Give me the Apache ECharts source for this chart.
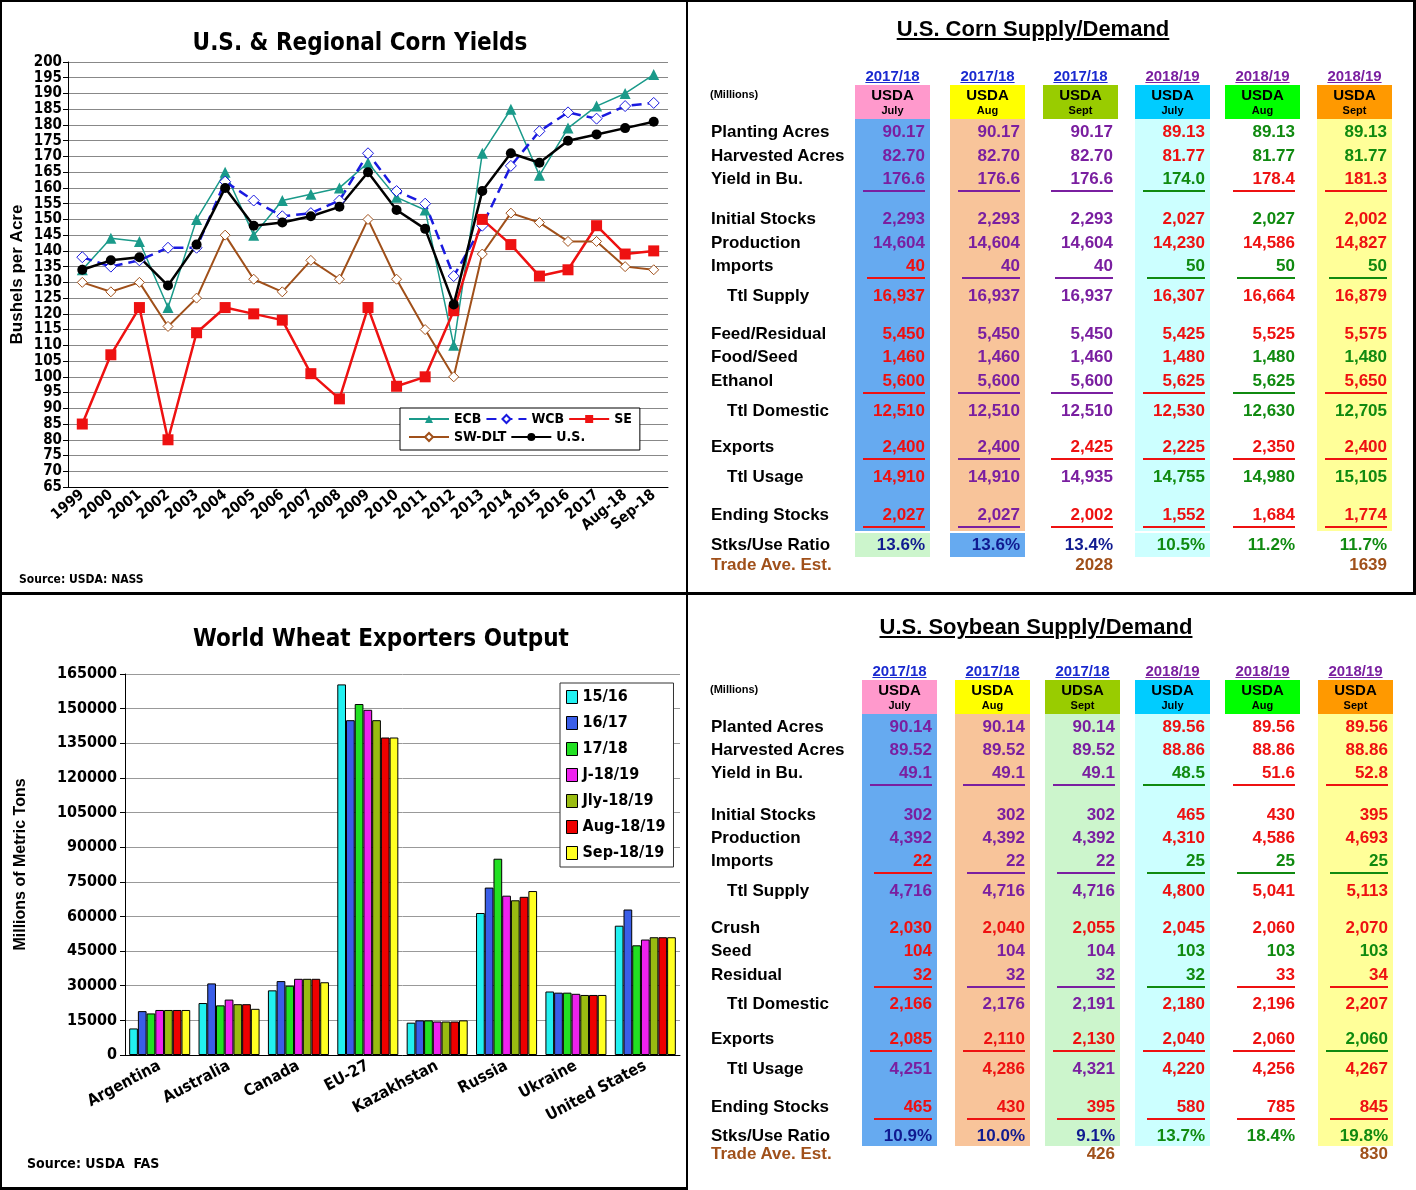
<!DOCTYPE html>
<html>
<head>
<meta charset="utf-8">
<title>Corn / Wheat / Soybean</title>
<script src="https://cdn.jsdelivr.net/npm/echarts@6.0.0/dist/echarts.min.js"></script>
<style>
  body { margin: 0; background: #fff; font-family: "Liberation Sans", Arial, sans-serif; }
  #wrap { position: relative; width: 1416px; height: 1190px; overflow: hidden; }
  #chart { position: absolute; left: 0; top: 0; width: 1416px; height: 1190px; }
  .abs { position: absolute; white-space: nowrap; font-weight: bold; }
  .line { position: absolute; background: #000; }
</style>
</head>
<body>
<div id="wrap">
  <div id="chart"></div>
  <div id="tables"></div>
</div>
<script>
// ---- corn yields ----
var years = ['1999','2000','2001','2002','2003','2004','2005','2006','2007','2008','2009','2010','2011','2012','2013','2014','2015','2016','2017','Aug-18','Sep-18'];
var ecb   = [134,144,143,122,150,165,145,156,158,160,168,157,153,110,171,185,164,179,186,190,196];
var wcb   = [138,135,137,141,141,162,156,151,152,156,171,159,155,132,148,167,178,184,182,186,187];
var se    = [85,107,122,80,114,122,120,118,101,93,122,97,100,121,150,142,132,134,148,139,140];
var swdlt = [130,127,130,116,125,145,131,127,137,131,150,131,115,100,139,152,149,143,143,135,134];
var us    = [134,137,138,129,142,160,148,149,151,154,165,153,147,123,159,171,168,175,177,179,181];

// ---- wheat exporters ----
var countries = ['Argentina','Australia','Canada','EU-27','Kazakhstan','Russia','Ukraine','United States'];
var wheatSeries = ['15/16','16/17','17/18','J-18/19','Jly-18/19','Aug-18/19','Sep-18/19'];
var wheat = [
  [11500,22500,28000,160500,14000,61500,27500,56000],
  [19000,31000,32000,145000,15000,72500,27000,63000],
  [18000,21500,30000,152000,15000,85000,27000,47500],
  [19500,24000,33000,149500,14500,69000,26500,50000],
  [19500,22000,33000,145000,14500,67000,26000,51000],
  [19500,22000,33000,137500,14500,68500,26000,51000],
  [19500,20000,31500,137500,15000,71000,26000,51000]
];
var wheatColors = ['#22f0f0','#3a5ee8','#22e022','#ee22ee','#99bb11','#ee0000','#ffff22'];

// ---- tables ----
var colYears = ['2017/18','2017/18','2017/18','2018/19','2018/19','2018/19'];
var colMonths = ['July','Aug','Sept','July','Aug','Sept'];
var cornHead = ['USDA','USDA','USDA','USDA','USDA','USDA'];
var soyHead = ['USDA','USDA','UDSA','USDA','USDA','USDA'];
// [label, indent, values, colour codes, underline]
var cornRows = [
  ['Planting Acres',0,['90.17','90.17','90.17','89.13','89.13','89.13'],'ppprgg',0],
  ['Harvested Acres',0,['82.70','82.70','82.70','81.77','81.77','81.77'],'ppprgg',0],
  ['Yield in Bu.',0,['176.6','176.6','176.6','174.0','178.4','181.3'],'pppgrr',1],
  ['Initial Stocks',0,['2,293','2,293','2,293','2,027','2,027','2,002'],'ppprgr',0],
  ['Production',0,['14,604','14,604','14,604','14,230','14,586','14,827'],'ppprrr',0],
  ['Imports',0,['40','40','40','50','50','50'],'rppggg',1],
  ['Ttl Supply',1,['16,937','16,937','16,937','16,307','16,664','16,879'],'rpprrr',0],
  ['Feed/Residual',0,['5,450','5,450','5,450','5,425','5,525','5,575'],'rpprrr',0],
  ['Food/Seed',0,['1,460','1,460','1,460','1,480','1,480','1,480'],'rpprgg',0],
  ['Ethanol',0,['5,600','5,600','5,600','5,625','5,625','5,650'],'rpprgr',1],
  ['Ttl Domestic',1,['12,510','12,510','12,510','12,530','12,630','12,705'],'rpprgg',0],
  ['Exports',0,['2,400','2,400','2,425','2,225','2,350','2,400'],'rprrrr',1],
  ['Ttl Usage',1,['14,910','14,910','14,935','14,755','14,980','15,105'],'rppggg',0],
  ['Ending Stocks',0,['2,027','2,027','2,002','1,552','1,684','1,774'],'rprrrr',1],
  ['Stks/Use Ratio',0,['13.6%','13.6%','13.4%','10.5%','11.2%','11.7%'],'bbbggg',0],
  ['Trade Ave. Est.',0,['','','2028','','','1639'],'oooooo',0]
];
var cornRowY = [132,156,179,219,243,266,296,334,357,381,411,447,477,515,545,565];
var soyRows = [
  ['Planted Acres',0,['90.14','90.14','90.14','89.56','89.56','89.56'],'ppprrr',0],
  ['Harvested Acres',0,['89.52','89.52','89.52','88.86','88.86','88.86'],'ppprrr',0],
  ['Yield in Bu.',0,['49.1','49.1','49.1','48.5','51.6','52.8'],'pppgrr',1],
  ['Initial Stocks',0,['302','302','302','465','430','395'],'ppprrr',0],
  ['Production',0,['4,392','4,392','4,392','4,310','4,586','4,693'],'ppprrr',0],
  ['Imports',0,['22','22','22','25','25','25'],'rppggg',1],
  ['Ttl Supply',1,['4,716','4,716','4,716','4,800','5,041','5,113'],'ppprrr',0],
  ['Crush',0,['2,030','2,040','2,055','2,045','2,060','2,070'],'rrrrrr',0],
  ['Seed',0,['104','104','104','103','103','103'],'rppggg',0],
  ['Residual',0,['32','32','32','32','33','34'],'rppgrr',1],
  ['Ttl Domestic',1,['2,166','2,176','2,191','2,180','2,196','2,207'],'rpprrr',0],
  ['Exports',0,['2,085','2,110','2,130','2,040','2,060','2,060'],'rrrrrg',1],
  ['Ttl Usage',1,['4,251','4,286','4,321','4,220','4,256','4,267'],'prprrr',0],
  ['Ending Stocks',0,['465','430','395','580','785','845'],'rrrrrr',1],
  ['Stks/Use Ratio',0,['10.9%','10.0%','9.1%','13.7%','18.4%','19.8%'],'bbbggg',0],
  ['Trade Ave. Est.',0,['','','426','','','830'],'oooooo',0]
];
var soyRowY = [727,750,773,815,838,861,891,928,951,975,1004,1039,1069,1107,1136,1154];

var textColors = { p: '#7a1fa0', r: '#ee1111', g: '#108a10', b: '#101a90', o: '#a0501a' };
var headColors = ['#ff99cc','#ffff00','#99cc00','#00ccff','#00ff00','#ff9900'];

function buildTable(opt) {
  var el = document.getElementById('tables');
  var h = '';
  h += '<div class="abs" style="left:' + (opt.titleX - 200) + 'px;width:400px;text-align:center;top:' + (opt.titleY - 14) + 'px;font-size:22px;text-decoration:underline;">' + opt.title + '</div>';
  h += '<div class="abs" style="left:710px;top:' + (opt.headY + 13) + 'px;font-size:11px;">(Millions)</div>';
  for (var c = 0; c < 6; c++) {
    var x0 = opt.colX[c], w = 75;
    if (opt.bands[c]) h += '<div style="position:absolute;left:' + x0 + 'px;top:' + (opt.headY + 44) + 'px;width:' + w + 'px;height:' + (opt.bandEnd - opt.headY - 44) + 'px;background:' + opt.bands[c] + ';"></div>';
    if (opt.ratioBands[c]) h += '<div style="position:absolute;left:' + x0 + 'px;top:' + (opt.ratioY - 12) + 'px;width:' + w + 'px;height:24px;background:' + opt.ratioBands[c] + ';"></div>';
    h += '<div style="position:absolute;left:' + x0 + 'px;top:' + (opt.headY + 10) + 'px;width:' + w + 'px;height:34px;background:' + headColors[c] + ';"></div>';
    h += '<div class="abs" style="left:' + x0 + 'px;width:' + w + 'px;text-align:center;top:' + (opt.headY - 8) + 'px;font-size:15px;text-decoration:underline;color:' + (c < 3 ? '#1a2ad0' : '#7a1fa0') + ';">' + colYears[c] + '</div>';
    h += '<div class="abs" style="left:' + x0 + 'px;width:' + w + 'px;text-align:center;top:' + (opt.headY + 11) + 'px;font-size:15px;">' + opt.head[c] + '</div>';
    h += '<div class="abs" style="left:' + x0 + 'px;width:' + w + 'px;text-align:center;top:' + (opt.headY + 29) + 'px;font-size:11px;">' + colMonths[c] + '</div>';
  }
  opt.rows.forEach(function (r, i) {
    var y = opt.rowY[i];
    var isTrade = r[0] === 'Trade Ave. Est.';
    h += '<div class="abs" style="left:' + (r[1] ? 727 : 711) + 'px;top:' + (y - 10) + 'px;font-size:17px;color:' + (isTrade ? textColors.o : '#000') + ';">' + r[0] + '</div>';
    for (var c = 0; c < 6; c++) {
      if (!r[2][c]) continue;
      var col = textColors[r[3][c]];
      var right = opt.colX[c] + 70;
      var lw = r[2][c].length > 3 ? 62 : 58;
      h += '<div class="abs" style="left:' + (right - 120) + 'px;width:120px;text-align:right;top:' + (y - 10) + 'px;font-size:17px;color:' + col + ';">' + r[2][c] + '</div>';
      if (r[4]) h += '<div style="position:absolute;left:' + (right - lw) + 'px;width:' + lw + 'px;top:' + (y + 11) + 'px;height:2px;background:' + col + ';"></div>';
    }
  });
  el.insertAdjacentHTML('beforeend', h);
}

buildTable({
  title: 'U.S. Corn Supply/Demand', titleX: 1033, titleY: 30, headY: 75,
  colX: [855, 950, 1043, 1135, 1225, 1317],
  bands: ['#66aaf0', '#f8c49a', null, '#ccffff', null, '#ffff99'], bandEnd: 531,
  ratioBands: ['#ccf5cc', '#66aaf0', null, '#ccffff', null, null], ratioY: 545,
  head: cornHead, rows: cornRows, rowY: cornRowY
});
buildTable({
  title: 'U.S. Soybean Supply/Demand', titleX: 1036, titleY: 628, headY: 670,
  colX: [862, 955, 1045, 1135, 1225, 1318],
  bands: ['#66aaf0', '#f8c49a', '#ccf5cc', '#ccffff', null, '#ffff99'], bandEnd: 1146,
  ratioBands: [null, null, null, null, null, null], ratioY: 1136,
  head: soyHead, rows: soyRows, rowY: soyRowY
});

// panel borders
document.getElementById('tables').insertAdjacentHTML('beforeend',
  '<div class="line" style="left:0;top:0;width:1416px;height:2px"></div>' +
  '<div class="line" style="left:0;top:0;width:2px;height:1190px"></div>' +
  '<div class="line" style="left:1413px;top:0;width:3px;height:593px"></div>' +
  '<div class="line" style="left:686px;top:0;width:2px;height:1190px"></div>' +
  '<div class="line" style="left:0;top:592px;width:1416px;height:3px"></div>' +
  '<div class="line" style="left:0;top:1187px;width:688px;height:3px"></div>');

var narrow = '"DejaVu Sans Condensed", "Liberation Sans Narrow", "Liberation Sans", sans-serif';
var chart = echarts.init(document.getElementById('chart'));

var wheatBars = wheatSeries.map(function (name, i) {
  return {
    name: name, type: 'bar', xAxisIndex: 1, yAxisIndex: 1, data: wheat[i],
    barGap: '0%', barCategoryGap: '12%',
    itemStyle: { color: wheatColors[i], borderColor: '#000', borderWidth: 1 }
  };
});

var option = {
  animation: false,
  textStyle: { fontFamily: narrow },
  title: [
    { text: 'U.S. & Regional Corn Yields', left: 355, top: 27, textAlign: 'center',
      textStyle: { fontSize: 24, fontWeight: 'bold', fontFamily: narrow, color: '#000' } },
    { text: 'World Wheat Exporters Output', left: 376, top: 623, textAlign: 'center',
      textStyle: { fontSize: 24, fontWeight: 'bold', fontFamily: narrow, color: '#000' } },
    { text: 'Source: USDA: NASS', left: 14, top: 569,
      textStyle: { fontSize: 12, fontWeight: 'bold', fontFamily: narrow, color: '#000' } },
    { text: 'Source: USDA  FAS', left: 22, top: 1152,
      textStyle: { fontSize: 14, fontWeight: 'bold', fontFamily: narrow, color: '#000' } }
  ],
  legend: [
    { data: ['ECB', 'WCB', 'SE', 'SW-DLT', 'U.S.'], left: 400, top: 408, width: 250,
      orient: 'horizontal', itemWidth: 40, itemHeight: 10, itemGap: 4,
      backgroundColor: '#fff', borderColor: '#000', borderWidth: 1, padding: [4, 8, 6, 8],
      textStyle: { fontSize: 14, fontWeight: 'bold', fontFamily: narrow, color: '#000', width: 78 } },
    { data: wheatSeries, orient: 'vertical', left: 560, top: 683, itemWidth: 11, itemHeight: 13, itemGap: 10,
      backgroundColor: '#fff', borderColor: '#333', borderWidth: 1, padding: [6, 8, 6, 6],
      icon: 'rect', itemStyle: { borderColor: '#000', borderWidth: 1 },
      textStyle: { fontSize: 16, fontWeight: 'bold', fontFamily: narrow, color: '#000' } }
  ],
  grid: [
    { left: 68, top: 62, width: 600, height: 425 },
    { left: 125, top: 674, width: 555, height: 381 }
  ],
  xAxis: [
    { type: 'category', data: years, gridIndex: 0, boundaryGap: true,
      axisLine: { lineStyle: { color: '#000' } }, axisTick: { lineStyle: { color: '#000' }, length: 5 },
      axisLabel: { rotate: 40, interval: 0, fontSize: 15, fontWeight: 'bold', color: '#000', fontFamily: narrow, margin: 6 } },
    { type: 'category', data: countries, gridIndex: 1,
      axisLine: { lineStyle: { color: '#000' } }, axisTick: { lineStyle: { color: '#000' }, length: 6 },
      axisLabel: { rotate: 28, interval: 0, fontSize: 16, fontWeight: 'bold', color: '#000', fontFamily: narrow, margin: 10 } }
  ],
  yAxis: [
    { type: 'value', gridIndex: 0, min: 65, max: 200, interval: 5,
      name: 'Bushels per Acre', nameLocation: 'middle', nameGap: 42, nameRotate: 90,
      nameTextStyle: { fontSize: 17, fontWeight: 'bold', color: '#000', fontFamily: '"Liberation Sans", sans-serif' },
      axisLine: { show: true, lineStyle: { color: '#000' } }, axisTick: { show: true, lineStyle: { color: '#000' } },
      splitLine: { lineStyle: { color: '#888' } },
      axisLabel: { fontSize: 15, fontWeight: 'bold', color: '#000', fontFamily: narrow, margin: 6 } },
    { type: 'value', gridIndex: 1, min: 0, max: 165000, interval: 15000,
      name: 'Millions of Metric Tons', nameLocation: 'middle', nameGap: 96, nameRotate: 90,
      nameTextStyle: { fontSize: 16, fontWeight: 'bold', color: '#000', fontFamily: '"Liberation Sans", sans-serif' },
      axisLine: { show: true, lineStyle: { color: '#000' } }, axisTick: { show: true, lineStyle: { color: '#000' } },
      splitLine: { lineStyle: { color: '#999' } },
      axisLabel: { fontSize: 16, fontWeight: 'bold', color: '#000', fontFamily: narrow, margin: 8,
        formatter: function (v) { return String(v); } } }
  ],
  series: [
    { name: 'ECB', type: 'line', data: ecb, symbol: 'triangle', symbolSize: 11,
      lineStyle: { color: '#1a9a8a', width: 1.5 }, itemStyle: { color: '#1a9a8a' } },
    { name: 'WCB', type: 'line', data: wcb, symbol: 'diamond', symbolSize: 11,
      lineStyle: { color: '#1a1ae0', width: 2.5, type: [10, 6] }, itemStyle: { color: '#fff', borderColor: '#1a1ae0', borderWidth: 1 } },
    { name: 'SE', type: 'line', data: se, symbol: 'rect', symbolSize: 11,
      lineStyle: { color: '#ee1111', width: 2.5 }, itemStyle: { color: '#ee1111' } },
    { name: 'SW-DLT', type: 'line', data: swdlt, symbol: 'diamond', symbolSize: 10,
      lineStyle: { color: '#a0501a', width: 2 }, itemStyle: { color: '#fff', borderColor: '#a0501a', borderWidth: 1 } },
    { name: 'U.S.', type: 'line', data: us, symbol: 'circle', symbolSize: 10,
      lineStyle: { color: '#000', width: 2.5 }, itemStyle: { color: '#000' } }
  ].concat(wheatBars)
};
chart.setOption(option);
</script>
</body>
</html>
